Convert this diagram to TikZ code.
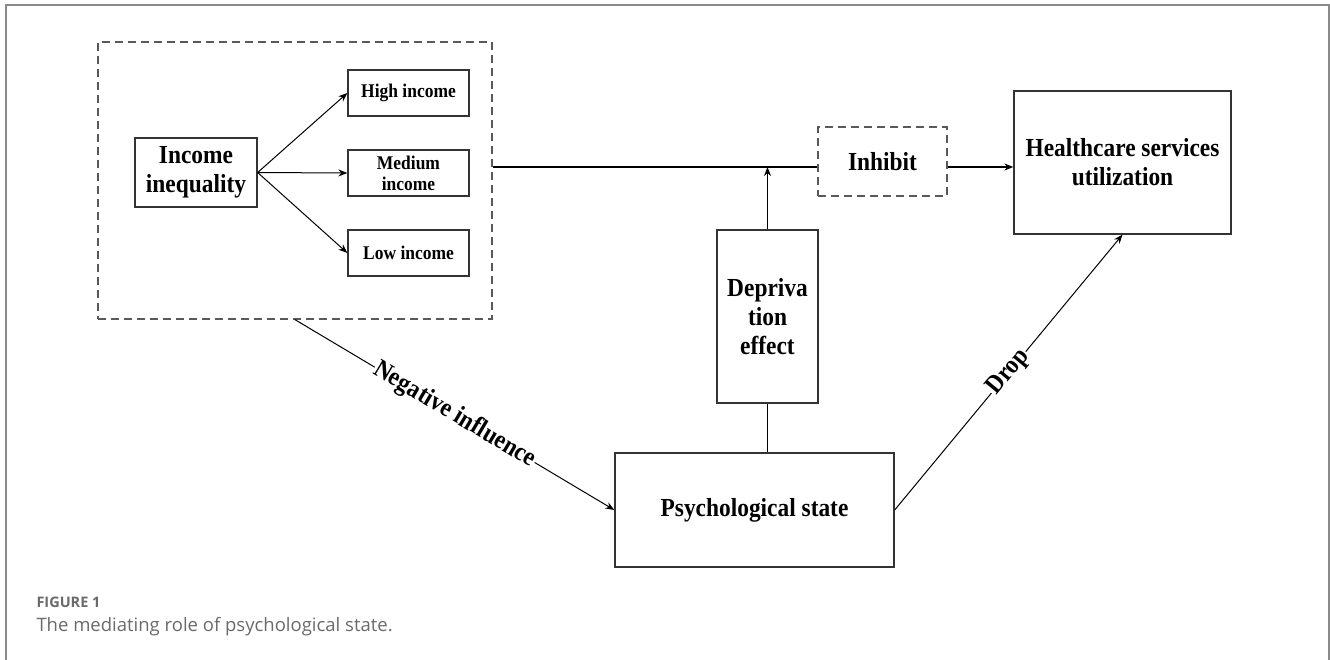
\documentclass[tikz,border=0pt]{standalone}
\usepackage{fontspec}
\setmainfont{Liberation Serif}
\newfontfamily\boxfont[FakeStretch=0.9]{Liberation Serif}
\newfontfamily\capfont{Open Sans}
\usetikzlibrary{positioning,arrows.meta}
\definecolor{framegray}{HTML}{8A8A8A}
\definecolor{capgray}{HTML}{6A6A6A}

\begin{document}
\begin{tikzpicture}[x=1pt, y=-1pt,
line width=1pt,
>={Stealth[length=9pt,width=7pt]},
block/.style={draw=black!80, fill=white, rectangle, line width=1.3pt, align=center, inner sep=0pt, font=\boxfont\bfseries\fontsize{19.4}{21}\selectfont},
bigblock/.style={block, font=\boxfont\bfseries\fontsize{26}{29}\selectfont},
dashbox/.style={draw=black!65, dash pattern=on 8pt off 5pt, line width=1.3pt},
tag/.style={sloped, fill=white, inner sep=1pt, font=\boxfont\bfseries\fontsize{26}{28}\selectfont}]

\useasboundingbox (0,0) rectangle (1330,659);
\draw[framegray, line width=1.6pt] (6,700) -- (6,5) -- (1329,5) -- (1329,700);

% left group
\node[dashbox, minimum width=394pt, minimum height=277pt]		(grp)	at (295,180.5)		{};
\node[bigblock, minimum width=122pt, minimum height=69pt]		(inc)	at (196,172.5)		{Income\\inequality};
\node[block, minimum width=121pt, minimum height=46pt]		(high)	at (408.5,93)		{High income};
\node[block, minimum width=121pt, minimum height=46pt]		(mid)	at (408.5,173)		{Medium\\income};
\node[block, minimum width=121pt, minimum height=46pt]		(low)	at (408.5,253)		{Low income};

% right part
\node[bigblock, dashbox, minimum width=129pt, minimum height=69pt]		(inh)	at (882.5,161.5)		{Inhibit};
\node[bigblock, minimum width=217pt, minimum height=143pt]		(hc)	at (1122.5,162.5)		{Healthcare services\\utilization};
\node[bigblock, minimum width=101pt, minimum height=173pt]		(dep)	at (767.5,316.5)		{Depriva\\tion\\effect};
\node[bigblock, minimum width=279pt, minimum height=114pt]		(psy)	at (754.5,510)		{Psychological state};
\coordinate (hub) at (767.5,167);

\path[->]
 (inc.east)		edge		(high.west)
 (inc.east)		edge		(mid.west)
 (inc.east)		edge		(low.west)
 (dep.north)		edge		(hub);

\draw[line width=2pt] (grp.east |- hub) -- (inh.west |- hub);
\draw[->, line width=2pt] (inh.east |- hub) -- (hc.west |- hub);
\draw (dep.south) -- (dep.south |- psy.north);

\draw[->] (grp.south) -- node[tag]	{Negative influence}	(psy.west);
\draw[->] (psy.east) -- node[tag]	{Drop}	(hc.south);

% caption
\node[anchor=base west, inner sep=0pt, text=capgray, font=\capfont\bfseries\fontsize{14.5}{16}\selectfont]		(fig)	at (36,607)		{FIGURE 1};
\node[anchor=base west, inner sep=0pt, text=capgray, font=\capfont\fontsize{18.5}{22}\selectfont]		(cap)	at (36,631)		{The mediating role of psychological state.};

\end{tikzpicture}
\end{document}
